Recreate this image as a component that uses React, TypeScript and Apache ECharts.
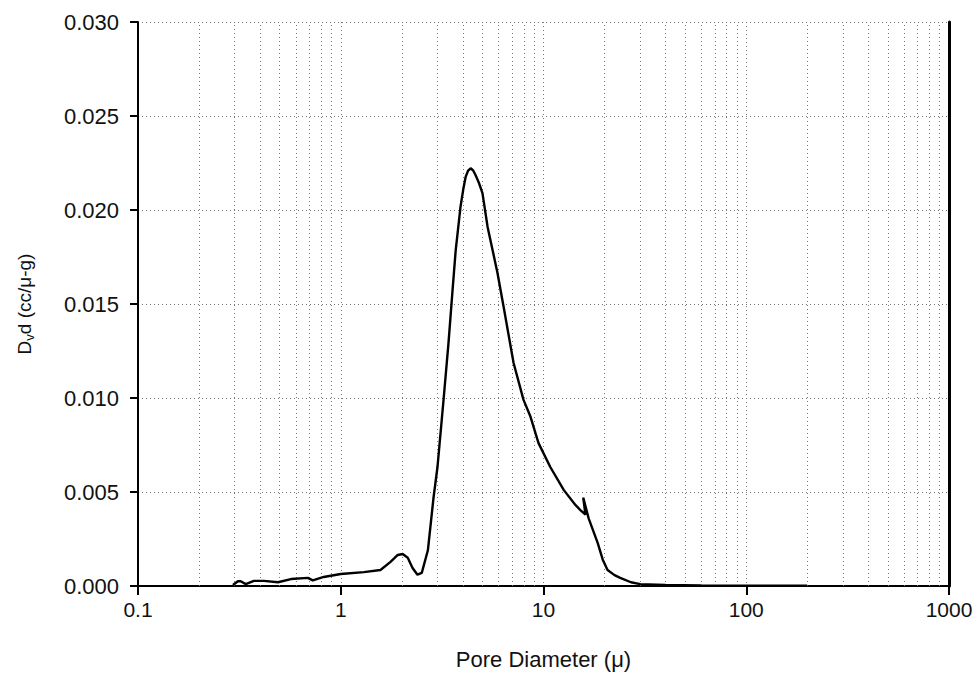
import React, { useEffect, useRef } from "react";
import * as echarts from "echarts";

// Pore diameter (μ) and Dv d (cc/μ-g)
const poreDiameter = [
  0.294, 0.311, 0.321, 0.34, 0.373, 0.418, 0.49, 0.568, 0.688, 0.728, 0.824, 1.0, 1.3,
  1.57, 1.76, 1.91, 2.02, 2.14, 2.26, 2.39, 2.51, 2.69, 2.87, 3.0, 3.22, 3.4, 3.56,
  3.69, 3.9, 4.02, 4.13, 4.25, 4.37, 4.5, 4.62, 4.8, 5.0, 5.3, 5.6, 5.93, 6.36, 7.12,
  7.97, 8.63, 9.45, 10.8, 12.6, 14.4, 15.2, 16.1, 15.7, 16.7, 18.5, 19.6, 20.7, 22.4,
  23.9, 27, 30, 40, 60, 100, 200,
];
const dvd = [
  0.00005, 0.00025, 0.00025, 0.0001, 0.00027, 0.00027, 0.0002, 0.00037, 0.00043,
  0.0003, 0.00048, 0.00064, 0.00074, 0.00085, 0.00128, 0.00165, 0.0017, 0.0015,
  0.00096, 0.0006, 0.0007, 0.0019, 0.00473, 0.00633, 0.01, 0.01293, 0.01574, 0.01787,
  0.0202, 0.0211, 0.02176, 0.0221, 0.02222, 0.0221, 0.02186, 0.02145, 0.0209, 0.0191,
  0.0179, 0.01665, 0.01484, 0.01186, 0.0099, 0.009, 0.0076, 0.00633, 0.0051, 0.0043,
  0.00404, 0.0038, 0.0047, 0.0036, 0.00229, 0.0014, 0.00085, 0.00058, 0.00043, 0.0002,
  0.0001, 0.00005, 0.00003, 0.00002, 0.00001,
];

const yTicks = { min: 0, max: 0.03, interval: 0.005 };
const xRange = { min: 0.1, max: 1000 };
const decades = [0.1, 1, 10, 100];
const minorSteps = [2, 3, 4, 5, 6, 7, 8, 9];

export default function App() {
  const ref = useRef<HTMLDivElement>(null);
  useEffect(() => {
    if (!ref.current) return;
    const chart = echarts.init(ref.current, undefined, { renderer: "svg" });
    const font = "Liberation Sans, Arial, sans-serif";
    const gridDot = { color: "#777", width: 1, type: [1, 3] as number[] };
    const minorLines: any[] = [];
    decades.forEach((d) =>
      minorSteps.forEach((s) => minorLines.push({ xAxis: Number((d * s).toPrecision(6)) }))
    );
    chart.setOption({
      animation: false,
      backgroundColor: "#fff",
      grid: { left: 138, right: 30, top: 22, bottom: 93, containLabel: false },
      xAxis: {
        type: "log",
        logBase: 10,
        min: xRange.min,
        max: xRange.max,
        name: "Pore Diameter (μ)",
        nameLocation: "middle",
        nameGap: 62,
        nameTextStyle: { fontFamily: font, fontSize: 22, color: "#111" },
        axisLine: { show: true, lineStyle: { color: "#000", width: 2 } },
        axisTick: { show: true, length: 9, inside: false, lineStyle: { color: "#000", width: 2 } },
        axisLabel: {
          fontFamily: font,
          fontSize: 21,
          color: "#111",
          margin: 13,
          formatter: (v: number) => String(Number(v.toPrecision(6))),
        },
        splitLine: { show: true, lineStyle: gridDot },
        minorTick: { show: false },
        minorSplitLine: { show: false },
      },
      yAxis: [
        {
          type: "value",
          min: yTicks.min,
          max: yTicks.max,
          interval: yTicks.interval,
          name: "{a|D}{s|v}{a|d (cc/μ-g)}",
          nameLocation: "middle",
          nameGap: 102,
          nameRotate: 90,
          nameTextStyle: {
            rich: {
              a: { fontFamily: font, fontSize: 19, color: "#111" },
              s: { fontFamily: font, fontSize: 13, color: "#111", padding: [10, 0, 0, 0] },
            },
          },
          axisLine: { show: true, lineStyle: { color: "#000", width: 2 } },
          axisTick: { show: true, length: 8, lineStyle: { color: "#000", width: 2 } },
          axisLabel: {
            fontFamily: font,
            fontSize: 22,
            color: "#111",
            margin: 19,
            formatter: (v: number) => v.toFixed(3),
          },
          splitLine: { show: true, lineStyle: gridDot },
        },
        {
          type: "value",
          position: "right",
          min: yTicks.min,
          max: yTicks.max,
          interval: yTicks.interval,
          axisLine: { show: true, lineStyle: { color: "#000", width: 3 } },
          axisTick: { show: false },
          axisLabel: { show: false },
          splitLine: { show: false },
        },
      ],
      series: [
        {
          type: "line",
          data: poreDiameter.map((x, i) => [x, dvd[i]]),
          showSymbol: false,
          symbol: "none",
          smooth: false,
          lineStyle: { color: "#000", width: 2.4 },
          z: 5,
          markLine: {
            silent: true,
            symbol: "none",
            label: { show: false },
            lineStyle: gridDot,
            data: minorLines,
            z: 1,
          },
        },
      ],
    });
    return () => chart.dispose();
  }, []);
  return <div ref={ref} style={{ width: 979, height: 679, position: "absolute", left: 0, top: 0 }} />;
}
